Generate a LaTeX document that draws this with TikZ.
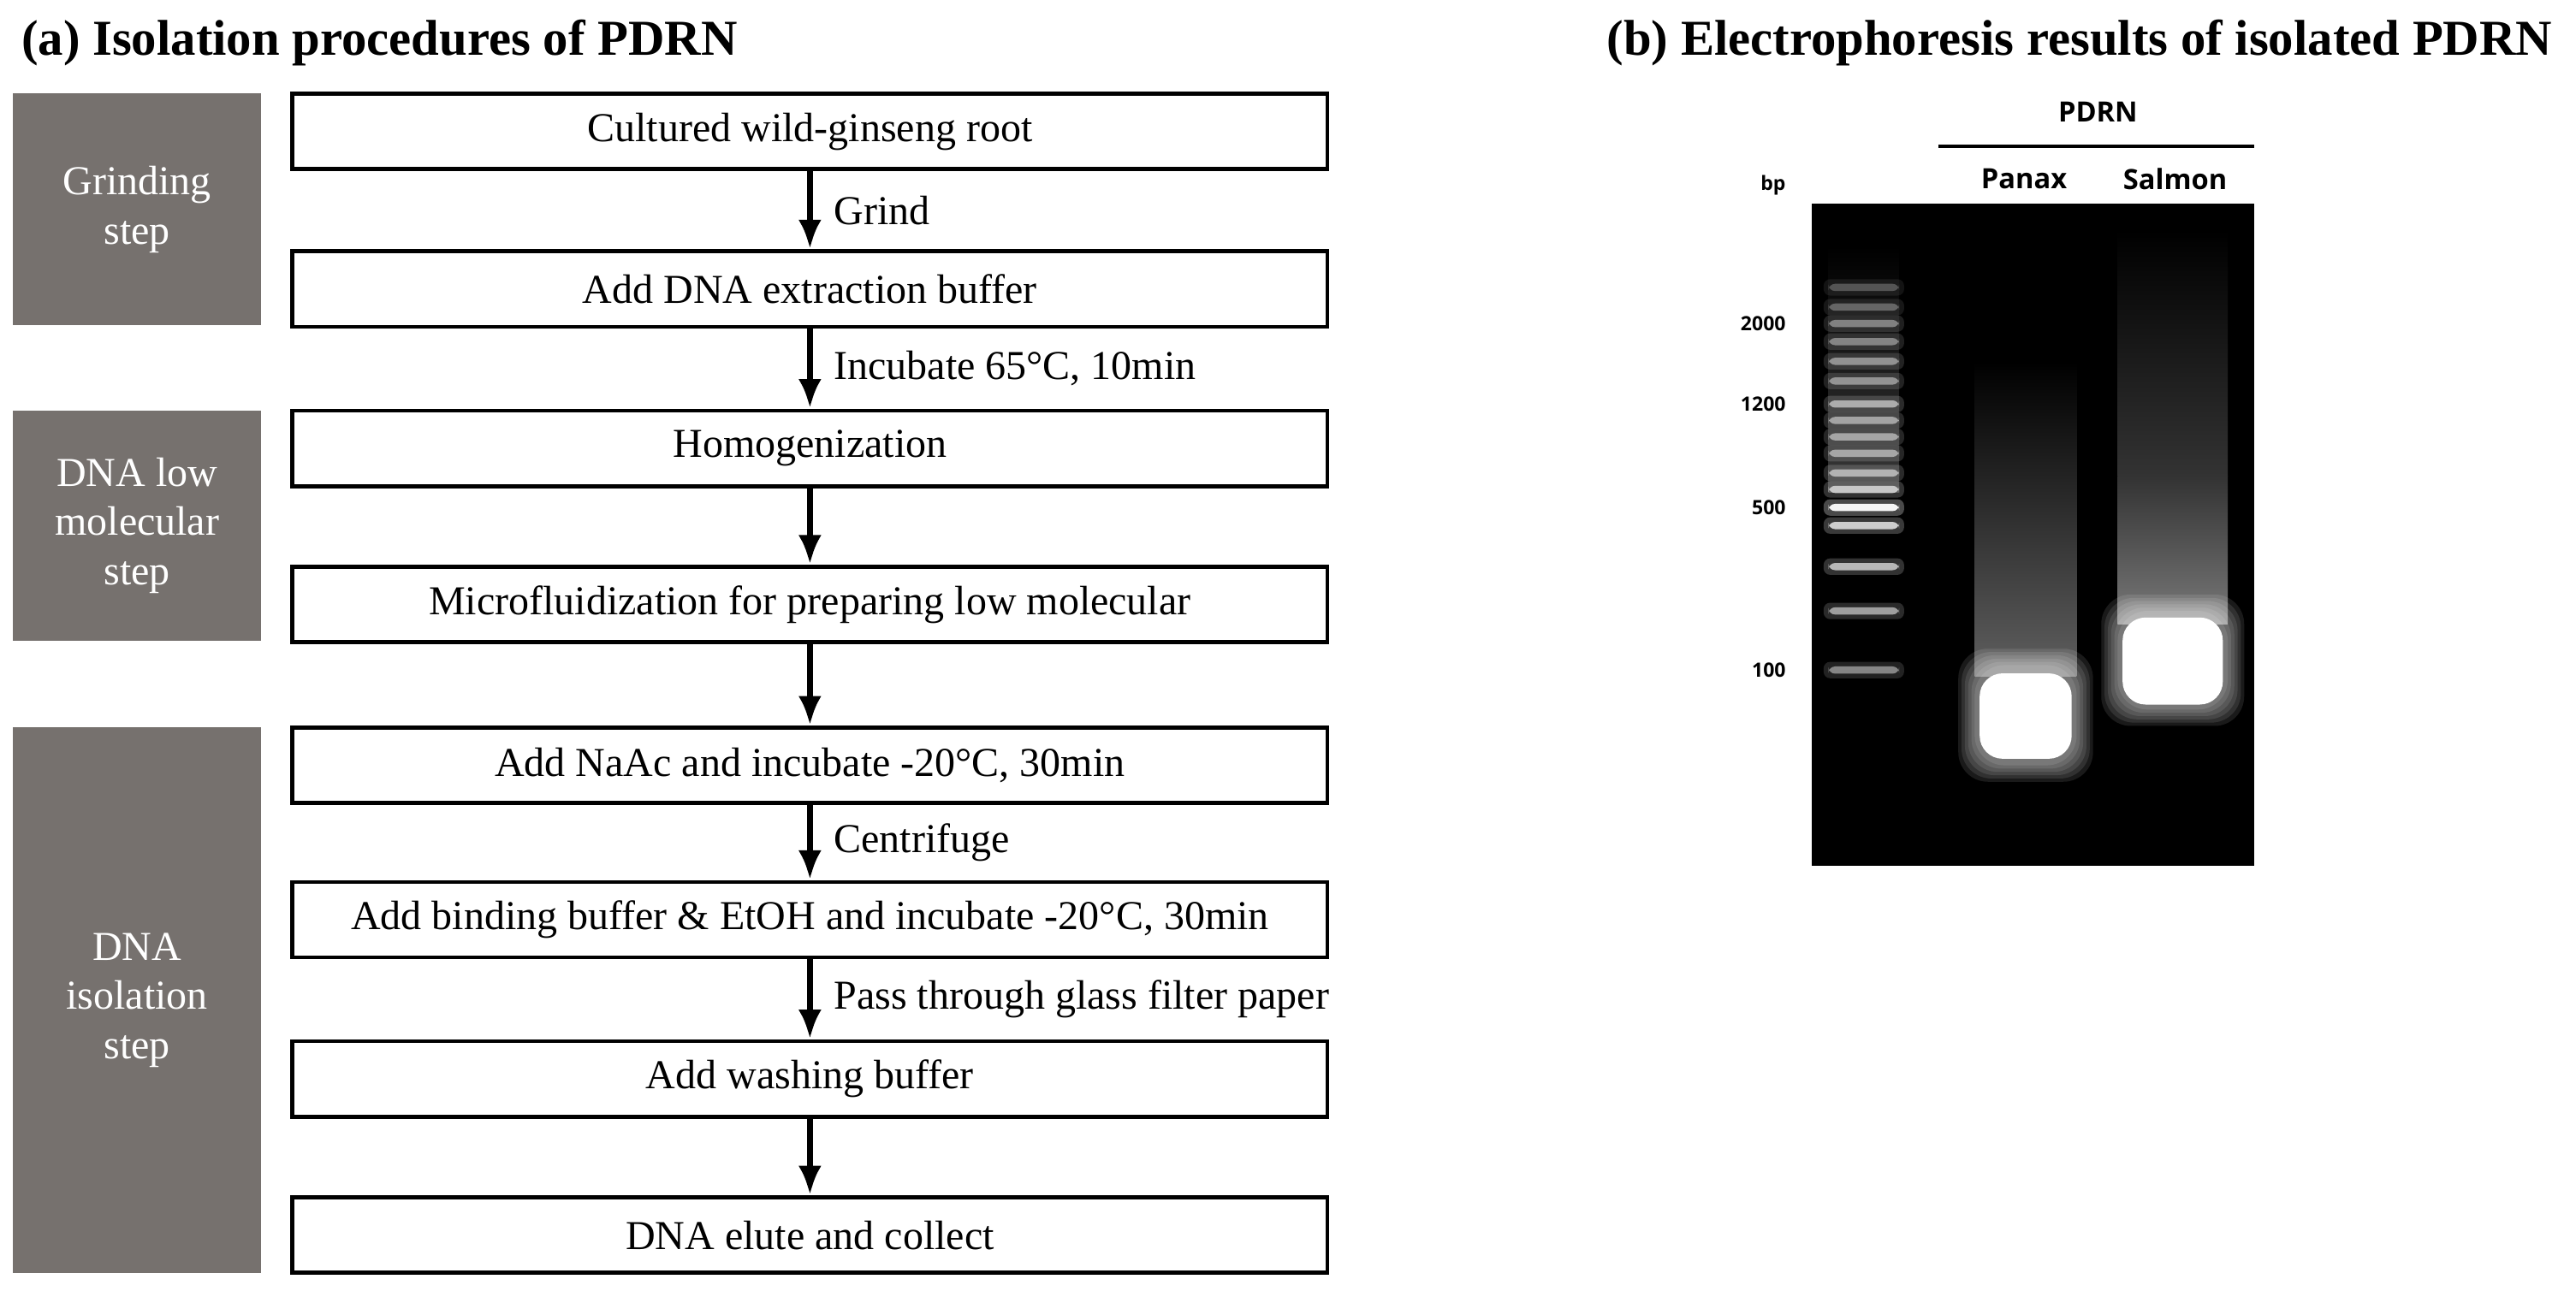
\documentclass[tikz,border=0pt]{standalone}
\usepackage{fontspec}
\setmainfont{Liberation Serif}
\newfontfamily\gelfont{Open Sans}
\begin{document}
\begin{tikzpicture}[x=0.5pt,y=-0.5pt,
  stepbox/.style={draw,line width=1.2pt,minimum width=315pt,minimum height=23pt,inner sep=0pt,font=\fontsize{12.5}{14}\selectfont},
  phase/.style={fill={rgb,255:red,118;green,113;blue,110},text=white,minimum width=75.5pt,inner sep=0pt,align=center,font=\fontsize{12.5}{15}\selectfont},
  flow/.style={-{Latex[length=9pt,width=7pt]},line width=2pt},
  lab/.style={right,font=\fontsize{12.5}{14}\selectfont},
  gl/.style={font=\gelfont\bfseries\fontsize{6}{7}\selectfont,anchor=east}]
\usetikzlibrary{arrows.meta}
\useasboundingbox (0,0) rectangle (1568,786);
\fill[white] (0,0) rectangle (1568,786);
\node[anchor=west,font=\bfseries\fontsize{15.3}{17}\selectfont] (ta) at (6,26) {(a) Isolation procedures of PDRN};
\node[anchor=west,font=\bfseries\fontsize{15.3}{17}\selectfont] (tb) at (971,26) {(b) Electrophoresis results of isolated PDRN};
% phases
\node[phase,minimum height=70.5pt] (p1) at (83.5,127.5) {Grinding\\step};
\node[phase,minimum height=70pt] (p2) at (83.5,320) {DNA low\\molecular\\step};
\node[phase,minimum height=166pt] (p3) at (83.5,609) {DNA\\isolation\\step};
% steps
\node[stepbox] (s1) at (493,80) {Cultured wild-ginseng root};
\node[stepbox] (s2) at (493,176) {Add DNA extraction buffer};
\node[stepbox] (s3) at (493,273) {Homogenization};
\node[stepbox] (s4) at (493,368) {Microfluidization for preparing low molecular};
\node[stepbox] (s5) at (493,466) {Add NaAc and incubate -20°C, 30min};
\node[stepbox] (s6) at (493,560) {Add binding buffer \& EtOH and incubate -20°C, 30min};
\node[stepbox] (s7) at (493,657) {Add washing buffer};
\node[stepbox] (s8) at (493,752) {DNA elute and collect};
\draw[flow] (s1) -- node[lab,xshift=3pt]{Grind} (s2);
\draw[flow] (s2) -- node[lab,xshift=3pt]{Incubate 65°C, 10min} (s3);
\draw[flow] (s3) -- (s4);
\draw[flow] (s4) -- (s5);
\draw[flow] (s5) -- node[lab,xshift=3pt]{Centrifuge} (s6);
\draw[flow] (s6) -- node[lab,xshift=3pt]{Pass through glass filter paper} (s7);
\draw[flow] (s7) -- (s8);
% gel
\node[font=\gelfont\bfseries\fontsize{8.5}{10}\selectfont] (pdrn) at (1277,68) {PDRN};
\draw[line width=1pt] (1180,89) -- (1372,89);
\node[font=\gelfont\bfseries\fontsize{8.5}{10}\selectfont] (pan) at (1232,109) {Panax};
\node[font=\gelfont\bfseries\fontsize{8.5}{10}\selectfont] (sal) at (1324,109) {Salmon};
\node[gl] (bp) at (1094,113) {bp};
\node[gl] (m1) at (1094,197) {2000};
\node[gl] (m2) at (1094,246) {1200};
\node[gl] (m3) at (1094,309) {500};
\node[gl] (m4) at (1094,408) {100};
\fill[black] (1103,124) rectangle (1372,527);
% ladder smear
\shade[top color=black,bottom color=gray!45!black] (1113,150) rectangle (1156,300);
\foreach \yy/\o in {175/0.25,187/0.3,197/0.4,208/0.4,220/0.45,232/0.45,246/0.55,256/0.5,266/0.5,276/0.5,288/0.55,298/0.65,309/0.95,320/0.75,345/0.65,372/0.55,408/0.45}{
  \fill[white,opacity=\o*0.3,rounded corners=2pt] (1110,\yy-5) rectangle (1159,\yy+5);
  \fill[white,opacity=\o,rounded corners=2pt] (1113,\yy-2.2) rectangle (1156,\yy+2.2);
}
% panax lane
\shade[top color=black,bottom color=gray!75!black] (1202,220) rectangle (1264,412);
\foreach \i in {10,8,...,0}{
  \fill[white,opacity=0.1,rounded corners=9pt] (1202-\i,405-\i) rectangle (1264+\i,466+\i);
}
\fill[white,rounded corners=7pt] (1205,410) rectangle (1261,462);
% salmon lane
\shade[top color=black,bottom color=gray!40!black] (1289,140) rectangle (1356,290);
\shade[top color=gray!40!black,bottom color=gray!95!black] (1289,290) rectangle (1356,380);
\foreach \i in {10,8,...,0}{
  \fill[white,opacity=0.1,rounded corners=9pt] (1289-\i,372-\i) rectangle (1356+\i,432+\i);
}
\fill[white,rounded corners=7pt] (1292,376) rectangle (1353,429);
\end{tikzpicture}
\end{document}
